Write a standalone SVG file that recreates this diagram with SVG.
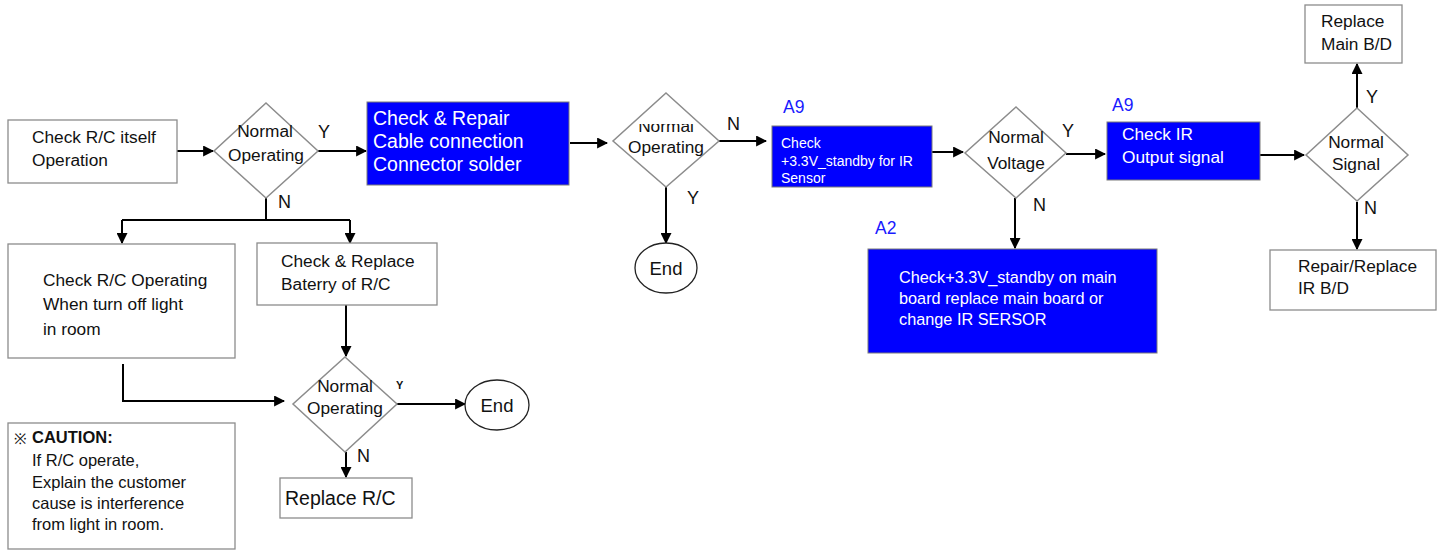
<svg xmlns="http://www.w3.org/2000/svg" width="1441" height="551" viewBox="0 0 1441 551">
  <defs>
    <marker id="arr" viewBox="0 0 10 10" refX="9" refY="5" markerWidth="5.5" markerHeight="5.5" orient="auto" markerUnits="strokeWidth">
      <path d="M0,0 L10,5 L0,10 z" fill="#000"/>
    </marker>
    <style>
      text { font-family: "Liberation Sans", Arial, sans-serif; fill: #111; }
      .box { fill: #fff; stroke: #8c8c8c; stroke-width: 1.3; }
      .blue { fill: #0000ff; stroke: #7a7a7a; stroke-width: 1; }
      .dia { fill: #fff; stroke: #8c8c8c; stroke-width: 1.5; }
      .end { fill: #fff; stroke: #222; stroke-width: 1.3; }
      .t { font-size: 17.3px; }
      .w { fill: #fff; }
      .lab { font-size: 18px; }
      .ref { font-size: 17.5px; fill: #1a1aff; }
      .ln { fill: none; stroke: #000; stroke-width: 2; }
    </style>
  </defs>

  <!-- connectors -->
  <g id="connectors">
    <line class="ln" x1="177" y1="151" x2="213" y2="151" marker-end="url(#arr)"/>
    <line class="ln" x1="318" y1="151" x2="366" y2="151" marker-end="url(#arr)"/>
    <polyline class="ln" points="266,198 266,220"/>
    <polyline class="ln" points="122,220 350,220"/>
    <line class="ln" x1="122" y1="220" x2="122" y2="243" marker-end="url(#arr)"/>
    <line class="ln" x1="350" y1="220" x2="350" y2="243" marker-end="url(#arr)"/>
    <line class="ln" x1="570" y1="143" x2="607" y2="143" marker-end="url(#arr)"/>
    <line class="ln" x1="719" y1="141" x2="766" y2="141" marker-end="url(#arr)"/>
    <line class="ln" x1="666" y1="187" x2="666" y2="243" marker-end="url(#arr)"/>
    <line class="ln" x1="932" y1="152" x2="963" y2="152" marker-end="url(#arr)"/>
    <line class="ln" x1="1066" y1="154" x2="1105" y2="154" marker-end="url(#arr)"/>
    <line class="ln" x1="1015" y1="198" x2="1015" y2="248" marker-end="url(#arr)"/>
    <line class="ln" x1="1260" y1="155" x2="1304" y2="155" marker-end="url(#arr)" stroke-width="2.5"/>
    <line class="ln" x1="1357" y1="108" x2="1357" y2="64" marker-end="url(#arr)" stroke-width="2.5"/>
    <line class="ln" x1="1357" y1="202" x2="1357" y2="249" marker-end="url(#arr)"/>
    <line class="ln" x1="346" y1="305" x2="346" y2="356" marker-end="url(#arr)"/>
    <polyline class="ln" points="123,364 123,401 284,401" marker-end="url(#arr)"/>
    <line class="ln" x1="397" y1="404" x2="465" y2="404" marker-end="url(#arr)"/>
    <line class="ln" x1="346" y1="452" x2="346" y2="477" marker-end="url(#arr)"/>
    <text class="lab" x="318" y="138">Y</text>
    <text class="lab" x="278" y="208">N</text>
    <text class="lab" x="727" y="130">N</text>
    <text class="lab" x="687" y="204">Y</text>
    <text class="lab" x="1062" y="137">Y</text>
    <text class="lab" x="1033" y="211">N</text>
    <text class="lab" x="1366" y="103">Y</text>
    <text class="lab" x="1364" y="214">N</text>
    <text x="396" y="389" font-size="11" font-weight="bold">Y</text>
    <text class="lab" x="357" y="462">N</text>
  </g>

  <g id="check-rc">
    <rect class="box" x="8" y="120" width="169" height="63"/>
    <text class="t" x="32" y="143">Check R/C itself</text>
    <text class="t" x="32" y="166">Operation</text>
  </g>

  <g id="decision-1">
    <polygon class="dia" points="266,103 318,151 266,198 214,151"/>
    <text class="t" x="265" y="137" text-anchor="middle">Normal</text>
    <text class="t" x="266" y="161" text-anchor="middle">Operating</text>
  </g>

  <g id="repair-cable">
    <rect class="blue" x="367" y="102" width="202" height="83"/>
    <text class="w" x="373" y="125" font-size="19.5">Check &amp; Repair</text>
    <text class="w" x="373" y="148" font-size="19.5">Cable connection</text>
    <text class="w" x="373" y="171" font-size="19.5">Connector solder</text>
  </g>

  <g id="decision-2">
    <polygon class="dia" points="666,93 719,141 666,187 613,141"/>
    <clipPath id="clip-d2"><rect x="600" y="124" width="140" height="60"/></clipPath>
    <text class="t" x="666" y="132" text-anchor="middle" clip-path="url(#clip-d2)">Normal</text>
    <text class="t" x="666" y="153" text-anchor="middle">Operating</text>
  </g>

  <g id="end-1">
    <ellipse class="end" cx="666" cy="268" rx="31" ry="25"/>
    <text x="666" y="275" font-size="18.5" text-anchor="middle">End</text>
  </g>

  <g id="check-standby">
    <text class="ref" x="783" y="113">A9</text>
    <rect class="blue" x="772" y="126" width="160" height="61"/>
    <text class="w" x="781" y="148" font-size="14">Check</text>
    <text class="w" x="781" y="166" font-size="14">+3.3V_standby for IR</text>
    <text class="w" x="781" y="183" font-size="14">Sensor</text>
  </g>

  <g id="decision-3">
    <polygon class="dia" points="1016,107 1066,153 1016,198 965,153"/>
    <text class="t" x="1016" y="143" text-anchor="middle">Normal</text>
    <text class="t" x="1016" y="169" text-anchor="middle">Voltage</text>
  </g>

  <g id="check-main-board">
    <text class="ref" x="875" y="234">A2</text>
    <rect class="blue" x="868" y="249" width="289" height="104"/>
    <text class="w" x="899" y="283" font-size="16.3">Check+3.3V_standby on main</text>
    <text class="w" x="899" y="304" font-size="16.3">board replace main board or</text>
    <text class="w" x="899" y="325" font-size="16.3">change IR SERSOR</text>
  </g>

  <g id="check-ir-output">
    <text class="ref" x="1112" y="111">A9</text>
    <rect class="blue" x="1107" y="122" width="153" height="58"/>
    <text class="t w" x="1122" y="140">Check IR</text>
    <text class="t w" x="1122" y="163">Output signal</text>
  </g>

  <g id="decision-4">
    <polygon class="dia" points="1357,108 1408,155 1357,201 1306,155"/>
    <text class="t" x="1356" y="148" text-anchor="middle">Normal</text>
    <text class="t" x="1356" y="170" text-anchor="middle">Signal</text>
  </g>

  <g id="replace-main">
    <rect class="box" x="1305" y="5" width="97" height="58"/>
    <text class="t" x="1321" y="27">Replace</text>
    <text class="t" x="1321" y="50">Main B/D</text>
  </g>

  <g id="repair-ir">
    <rect class="box" x="1270" y="250" width="166" height="60"/>
    <text class="t" x="1298" y="272">Repair/Replace</text>
    <text class="t" x="1298" y="294">IR B/D</text>
  </g>

  <g id="check-light">
    <rect class="box" x="8" y="244" width="227" height="114"/>
    <text class="t" x="43" y="286">Check R/C Operating</text>
    <text class="t" x="43" y="310">When turn off light</text>
    <text class="t" x="43" y="335">in room</text>
  </g>

  <g id="replace-battery">
    <rect class="box" x="257" y="243" width="180" height="62"/>
    <text class="t" x="281" y="267">Check &amp; Replace</text>
    <text class="t" x="281" y="290">Baterry of R/C</text>
  </g>

  <g id="decision-5">
    <polygon class="dia" points="345,357 397,404 345,452 293,404"/>
    <text class="t" x="345" y="392" text-anchor="middle">Normal</text>
    <text class="t" x="345" y="414" text-anchor="middle">Operating</text>
  </g>

  <g id="end-2">
    <ellipse class="end" cx="497" cy="405" rx="32" ry="25"/>
    <text x="497" y="412" font-size="18.5" text-anchor="middle">End</text>
  </g>

  <g id="replace-rc">
    <rect class="box" x="280" y="478" width="132" height="40"/>
    <text x="285" y="505" font-size="19.5">Replace R/C</text>
  </g>

  <g id="caution">
    <rect class="box" x="8" y="423" width="227" height="126"/>
    <text x="14" y="444" font-size="15" font-family="'Noto Sans CJK JP', 'Liberation Sans', sans-serif">※</text>
    <text x="32" y="443" font-size="16.5" font-weight="bold">CAUTION:</text>
    <text x="32" y="466" font-size="16.5">If R/C operate,</text>
    <text x="32" y="488" font-size="16.5">Explain the customer</text>
    <text x="32" y="509" font-size="16.5">cause is interference</text>
    <text x="32" y="530" font-size="16.5">from light in room.</text>
  </g>
</svg>
